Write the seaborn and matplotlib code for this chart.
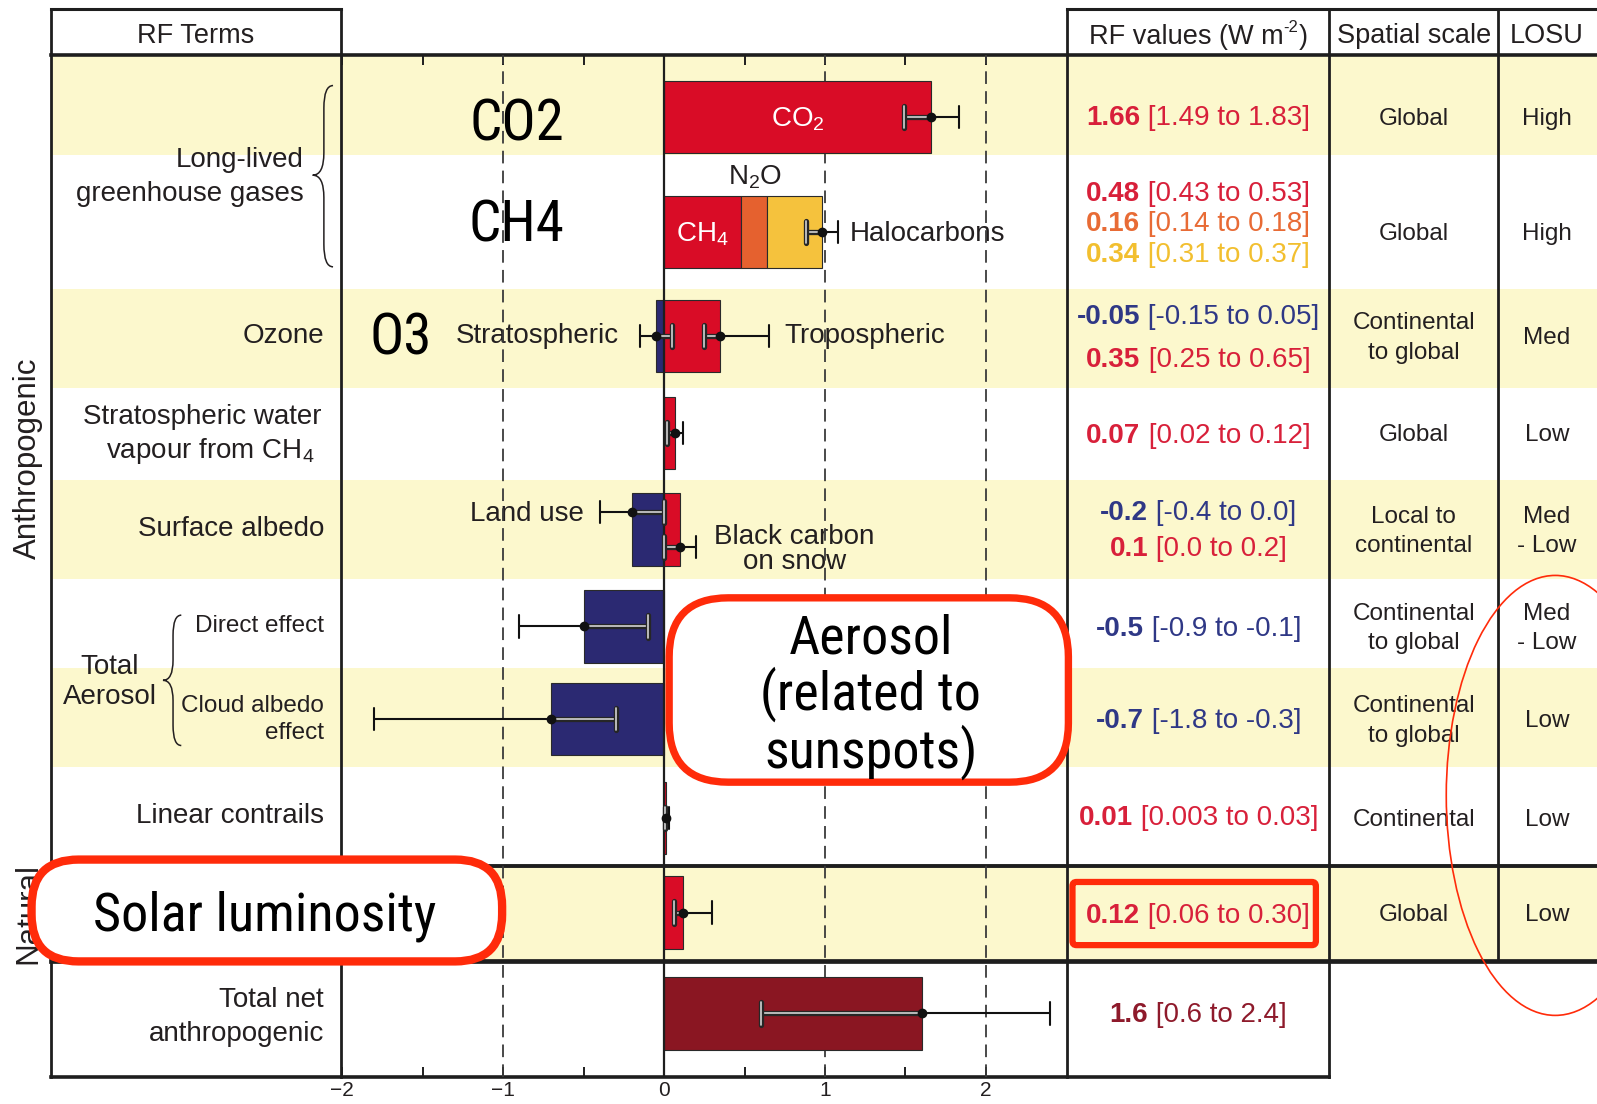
import numpy as np
import matplotlib
matplotlib.use("Agg")
import matplotlib.pyplot as plt
import matplotlib.patheffects as pe
from matplotlib import font_manager
from matplotlib.patches import FancyBboxPatch, Ellipse, PathPatch, Rectangle
from matplotlib.path import Path
import seaborn as sns

# ---------------- radiative forcing components (W m-2) ----------------
bar_terms = ["CO2", "CH4", "N2O", "Halocarbons", "Stratospheric ozone",
             "Tropospheric ozone", "Stratospheric water vapour", "Land use",
             "Black carbon on snow", "Aerosol direct effect", "Cloud albedo effect",
             "Linear contrails", "Solar irradiance", "Total net anthropogenic"]
bar_rf = [1.66, 0.48, 0.16, 0.34, -0.05, 0.35, 0.07, -0.2, 0.1, -0.5, -0.7, 0.01, 0.12, 1.6]
bar_row = [0, 1, 1, 1, 2, 2, 3, 4, 4, 5, 6, 7, 8, 9]
bar_kind = ["red", "red", "orange", "yellow", "blue", "red", "red", "blue", "red",
            "blue", "blue", "red", "red", "darkred"]
range_text = ["[1.49 to 1.83]", "[0.43 to 0.53]", "[0.14 to 0.18]", "[0.31 to 0.37]",
              "[-0.15 to 0.05]", "[0.25 to 0.65]", "[0.02 to 0.12]", "[-0.4 to 0.0]",
              "[0.0 to 0.2]", "[-0.9 to -0.1]", "[-1.8 to -0.3]", "[0.003 to 0.03]",
              "[0.06 to 0.30]", "[0.6 to 2.4]"]

# uncertainty whiskers: best estimate, low, high
err_row = [0, 1, 2, 2, 3, 4, 4, 5, 6, 7, 8, 9]
err_best = [1.66, 0.98, -0.05, 0.35, 0.07, -0.2, 0.1, -0.5, -0.7, 0.01, 0.12, 1.6]
err_low = [1.49, 0.88, -0.15, 0.25, 0.02, -0.4, 0.0, -0.9, -1.8, 0.003, 0.06, 0.6]
err_high = [1.83, 1.08, 0.05, 0.65, 0.12, 0.0, 0.2, -0.1, -0.3, 0.03, 0.30, 2.4]

spatial_scale = ["Global", "Global", "Continental\nto global", "Global",
                 "Local to\ncontinental", "Continental\nto global",
                 "Continental\nto global", "Continental", "Global"]
losu = ["High", "High", "Med", "Low", "Med\n- Low", "Med\n- Low", "Low", "Low", "Low"]

x_tick_values = [-2, -1, 0, 1, 2]
x_tick_labels = ["\u22122", "\u22121", "0", "1", "2"]

# ---------------- layout (canvas units, 1568 x 1084) ----------------
W, H = 1568, 1084
ZERO, UNIT = 652, 158
row_edges = [54, 152, 284, 381, 471, 569, 656, 753, 850, 944, 1057]
bar_centre = [115, 228, 330, 425, 520, 615, 706, 803, 896, 995]
BAR_H = 71
shaded_rows = [0, 2, 4, 6, 8]
err_shift = [0, 0, 0, 0, 0, -17, 17, 0, 0, 0, 0, 0]
value_y = [113, 187, 217, 247, 308, 350, 425, 501, 536, 614, 705, 800, 896, 993]
DY = 2  # small downward nudge for centred text

palette = {"red": "#D90C26", "orange": "#E5612F", "yellow": "#F5C23D",
           "blue": "#2B2972", "darkred": "#8A1622"}
text_colour = {"red": "#D8203A", "orange": "#E86B35", "yellow": "#F2BF2F",
               "blue": "#2F3886", "darkred": "#8E1A2B"}
ROW_YELLOW = "#FCF8CD"
INK = "#231F20"
CALLOUT = "#FF2B0A"

sns.set_theme(style="white")
names = {f.name for f in font_manager.fontManager.ttflist}


def pick(*cands):
    for c in cands:
        if c in names:
            return c
    return "DejaVu Sans"


SANS = pick("Liberation Sans", "Arial", "DejaVu Sans")
NARROW = pick("Liberation Sans Narrow", "Roboto Condensed", "DejaVu Sans")
plt.rcParams["font.family"] = [SANS, "DejaVu Sans"]
plt.rcParams["mathtext.default"] = "regular"
plt.rcParams["text.color"] = INK

fig = plt.figure(figsize=(15.97, 11.04), dpi=100)
renderer = fig.canvas.get_renderer()
U_PER_PX = W / fig.bbox.width

# ---------------- background canvas: shading, grid, labels ----------------
bg = fig.add_axes([0, 0, 1, 1], zorder=0)
bg.set_xlim(0, W)
bg.set_ylim(H, 0)
bg.axis("off")

for r in shaded_rows:
    bg.add_patch(Rectangle((50, row_edges[r]), W - 50, row_edges[r + 1] - row_edges[r],
                           facecolor=ROW_YELLOW, lw=0))

line_kw = dict(color="#1E1E1E", solid_capstyle="projecting")
bg.plot([50, 335], [9, 9], lw=2.2, **line_kw)
bg.plot([1048, W], [9, 9], lw=2.2, **line_kw)
bg.plot([50, W], [54, 54], lw=2.6, **line_kw)
bg.plot([50, W], [850, 850], lw=2.8, **line_kw)
bg.plot([50, W], [944, 944], lw=3.4, **line_kw)
bg.plot([50, 1305], [1057, 1057], lw=2.6, **line_kw)
for xv, y_end in [(50, 1057), (335, 1057), (1048, 1057), (1305, 1057), (1471, 944)]:
    bg.plot([xv, xv], [9, y_end], lw=2.0, **line_kw)


def width_of(t):
    return t.get_window_extent(renderer).width * U_PER_PX


# column headers
hdr = dict(fontsize=19.5, ha="center", va="center")
bg.text(192, 33 + DY, "RF Terms", **hdr)
bg.text(1388, 33 + DY, "Spatial scale", **hdr)
bg.text(1519, 33 + DY, "LOSU", **hdr)
h1 = bg.text(0, 43, "RF values (W m", fontsize=19.5, ha="left", va="baseline")
h2 = bg.text(0, 31, "-2", fontsize=12, ha="left", va="baseline")
h3 = bg.text(0, 43, ")", fontsize=19.5, ha="left", va="baseline")
w1, w2, w3 = width_of(h1), width_of(h2), width_of(h3)
hx = 1176.5 - (w1 + w2 + w3) / 2
h1.set_x(hx)
h2.set_x(hx + w1)
h3.set_x(hx + w1 + w2)

# row labels
lab = dict(fontsize=20, ha="right", va="center")
bg.text(298, 155 + DY, "Long-lived", **lab)
bg.text(298, 188 + DY, "greenhouse gases", **lab)
bg.text(318, 328 + DY, "Ozone", **lab)
bg.text(316, 407 + DY, "Stratospheric water", **lab)
bg.text(309, 441 + DY, "vapour from CH$_4$", **lab)
bg.text(318, 517 + DY, "Surface albedo", **lab)
bg.text(318, 613 + DY, "Direct effect", fontsize=17.5, ha="right", va="center")
bg.text(318, 691 + DY, "Cloud albedo", fontsize=17.5, ha="right", va="center")
bg.text(318, 718 + DY, "effect", fontsize=17.5, ha="right", va="center")
bg.text(108, 668 + DY, "Total\nAerosol", fontsize=20, ha="center", va="center")
bg.text(318, 799 + DY, "Linear contrails", **lab)
bg.text(318, 980 + DY, "Total net", **lab)
bg.text(318, 1013 + DY, "anthropogenic", **lab)
bg.text(27, 450, "Anthropogenic", fontsize=22.5, rotation=90, ha="center", va="center")
bg.text(28, 897, "Natural", fontsize=22.5, rotation=90, ha="center", va="center")


def brace(x_tip, y0, y1, depth, ym=None):
    ym = (y0 + y1) / 2 if ym is None else ym
    xs, xe = x_tip + depth * 0.55, x_tip + depth
    r = depth * 1.1
    verts = [(xe, y0), (xs, y0), (xs, y0 + r), (xs, ym - r), (xs, ym), (x_tip, ym),
             (xs, ym), (xs, ym + r), (xs, y1 - r), (xs, y1), (xe, y1)]
    codes = [Path.MOVETO, Path.CURVE3, Path.CURVE3, Path.LINETO, Path.CURVE3, Path.CURVE3,
             Path.CURVE3, Path.CURVE3, Path.LINETO, Path.CURVE3, Path.CURVE3]
    bg.add_patch(PathPatch(Path(verts, codes), fill=False, ec=INK, lw=1.1))


brace(307, 84, 262, 20, ym=172)
brace(160, 604, 732, 18, ym=668)

# annotations inside the plotting area
ann = dict(fontsize=20, va="center")
bg.text(741, 172 + DY, "N$_2$O", ha="center", **ann)
bg.text(834, 228 + DY, "Halocarbons", ha="left", **ann)
bg.text(608, 328 + DY, "Stratospheric", ha="right", **ann)
bg.text(770, 328 + DY, "Tropospheric", ha="left", **ann)
bg.text(573, 503 + DY, "Land use", ha="right", **ann)
bg.text(780, 525 + DY, "Black carbon", ha="center", **ann)
bg.text(780, 550 + DY, "on snow", ha="center", **ann)

big = dict(fontsize=41, family=[NARROW, "DejaVu Sans"], fontstretch="condensed",
           ha="center", va="center", color="black")
bg.text(507, 123, "CO2", **big)
bg.text(507, 222, "CH4", **big)
bg.text(393, 333, "O3", **big)

# ---------------- right-hand table ----------------


def value_line(xc, y, best, rng, colour):
    t1 = bg.text(0, y + 10, best, fontsize=20, fontweight="bold", color=colour,
                 ha="left", va="baseline")
    t2 = bg.text(0, y + 10, " " + rng, fontsize=20, color=colour, ha="left", va="baseline")
    a, b = width_of(t1), width_of(t2)
    x0 = xc - (a + b) / 2
    t1.set_x(x0)
    t2.set_x(x0 + a)


for v, rng, kind, yv in zip(bar_rf, range_text, bar_kind, value_y):
    value_line(1176.5, yv, f"{v:g}", rng, text_colour[kind])

for r, (sc, lo) in enumerate(zip(spatial_scale, losu)):
    bg.text(1388, bar_centre[r] + DY, sc, fontsize=17.5, ha="center", va="center",
            linespacing=1.45)
    bg.text(1519, bar_centre[r] + DY, lo, fontsize=17.5, ha="center", va="center",
            linespacing=1.45)

# ---------------- bar chart ----------------
ax = fig.add_axes([335 / W, 1 - 1057 / H, (1048 - 335) / W, (1057 - 54) / H], zorder=1)
ax.patch.set_visible(False)
ax.set_xlim((335 - ZERO) / UNIT, (1048 - ZERO) / UNIT)
ax.set_ylim(1057, 54)
sns.despine(ax=ax, left=True, bottom=True, top=True, right=True)
ax.set_yticks([])
ax.set_xticks(x_tick_values)
ax.set_xticklabels(x_tick_labels)
ax.set_xticks(np.arange(-1.5, 2.5, 0.5), minor=True)
ax.tick_params(axis="x", which="both", direction="in", top=True, bottom=True,
               length=7, width=1.4, color="#1E1E1E", labelsize=15, pad=3, labelcolor=INK)

for v in [-1, 1, 2]:
    ax.axvline(v, color="#3A3A3A", lw=1.3, dashes=(7, 4), zorder=1)
ax.axvline(0, color="#1E1E1E", lw=1.6, zorder=3)

pos_base, neg_base = {}, {}
for term, v, r, kind in zip(bar_terms, bar_rf, bar_row, bar_kind):
    store = pos_base if v >= 0 else neg_base
    base = store.get(r, 0.0)
    ax.barh(bar_centre[r], v, left=base, height=BAR_H, color=palette[kind],
            edgecolor="#2A2A2A", linewidth=0.8, zorder=2)
    store[r] = base + v

ax.text(bar_rf[0] / 2, bar_centre[0] + DY, "CO$_2$", color="white", fontsize=20,
        ha="center", va="center", zorder=3)
ax.text(bar_rf[1] / 2, bar_centre[1] + DY, "CH$_4$", color="white", fontsize=20,
        ha="center", va="center", zorder=3)

hollow = [pe.Stroke(linewidth=3.8, foreground="#262626"), pe.Normal()]


def whisker(y, best, lo, hi):
    cap = 11
    if best >= 0:
        inner, outer, in_end, out_end = (lo, best), (best, hi), lo, hi
    else:
        inner, outer, in_end, out_end = (best, hi), (lo, best), hi, lo
    ax.plot(outer, [y, y], color="#111111", lw=1.5, zorder=4, solid_capstyle="butt")
    ax.plot([out_end, out_end], [y - cap, y + cap], color="#111111", lw=1.5, zorder=4)
    ax.plot(inner, [y, y], color="#D4D4D4", lw=1.2, zorder=4, path_effects=hollow,
            solid_capstyle="butt")
    ax.plot([in_end, in_end], [y - cap, y + cap], color="#D4D4D4", lw=1.2, zorder=4,
            path_effects=hollow)
    ax.plot(best, y, "o", color="#111111", ms=6, zorder=5)


for r, b, lo, hi, dy in zip(err_row, err_best, err_low, err_high, err_shift):
    whisker(bar_centre[r] + dy, b, lo, hi)

# ---------------- call-outs ----------------
ov = fig.add_axes([0, 0, 1, 1], zorder=3)
ov.set_xlim(0, W)
ov.set_ylim(H, 0)
ov.axis("off")

ov.add_patch(FancyBboxPatch((31, 844), 462, 100, boxstyle="round,pad=0,rounding_size=46",
                            fc="white", ec=CALLOUT, lw=6))
ov.text(260, 900, "Solar luminosity", **{**big, "fontsize": 39})

ov.add_patch(FancyBboxPatch((657, 587), 392, 181, boxstyle="round,pad=0,rounding_size=58",
                            fc="white", ec=CALLOUT, lw=5.3))
ov.text(855, 684, "Aerosol\n(related to\nsunspots)", linespacing=1.05,
        **{**big, "fontsize": 39})

ov.add_patch(FancyBboxPatch((1053, 866), 239, 62, boxstyle="round,pad=0,rounding_size=4",
                            fill=False, ec=CALLOUT, lw=4.5))
ov.add_patch(Ellipse((1527, 781), 214, 432, fill=False, ec=CALLOUT, lw=1.2))

fig.savefig("out.png", dpi=100)
